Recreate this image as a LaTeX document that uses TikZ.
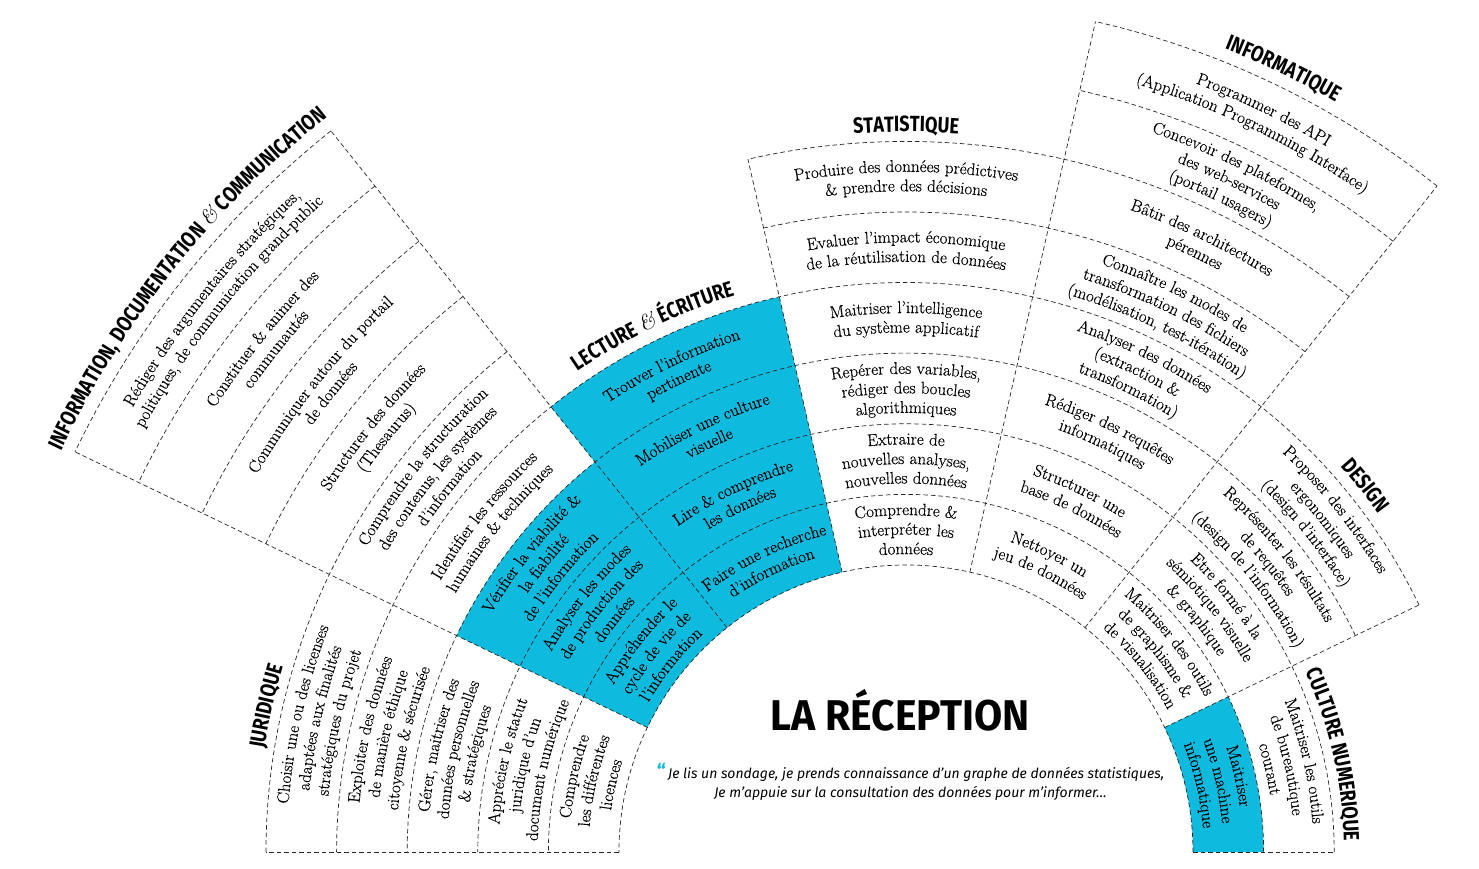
\documentclass[tikz,border=0pt]{standalone}
\usepackage{fontspec}
\usetikzlibrary{decorations.text}
\newfontfamily\titlefont[FakeStretch=0.82]{Fira Sans}
\newfontfamily\bigfont[FakeStretch=0.95]{Fira Sans}
\newfontfamily\quotefont{Fira Sans}
\newfontfamily\cellfam[FakeBold=0.3]{Latin Modern Roman}
\definecolor{rblue}{RGB}{14,186,222}
\newcommand\cellfont{\cellfam\fontsize{17}{19.5}\selectfont}
\newcommand\titlef{\titlefont\bfseries\fontsize{22}{22}\selectfont}
\newcommand\ampf{\rmfamily\itshape\fontsize{22}{22}\selectfont}
% one line of cell text along an arc: angle, band, line offset, text
\newcommand\tl[4]{%
  \pgfmathsetmacro\rr{317.3+70.6*#2+19.5*#3}%
  \pgfmathsetmacro\aa{#1+70}\pgfmathsetmacro\ab{#1-70}%
  \path[decorate,decoration={text along path,text align=center,text={|\cellfont|#4}}]
    (\aa:\rr pt) arc[start angle=\aa,end angle=\ab,radius=\rr pt];}
% title along an arc: angle, baseline radius, text
\newcommand\ttl[3]{%
  \pgfmathsetmacro\aa{#1+60}\pgfmathsetmacro\ab{#1-60}%
  \path[decorate,decoration={text along path,text align=center,text={|\titlef|#3}}]
    (\aa:#2pt) arc[start angle=\aa,end angle=\ab,radius=#2pt];}
\newcommand\radial[3]{\draw[dl] (#1:#2pt) -- (#1:#3pt);}
\newcommand\arcc[3]{\draw[dl] (#2:#1pt) arc[start angle=#2,end angle=#3,radius=#1pt];}
\tikzset{dl/.style={draw=black!85,line width=0.7pt,dash pattern=on 4.5pt off 3pt}}
\begin{document}
\begin{tikzpicture}[x=1pt,y=1pt]
\fill[white] (-906,-16) rectangle (573,852);
\useasboundingbox (-906,-16) rectangle (573,852);
% blue cells
\fill[rblue] (0:287pt) -- (0:357.6pt) arc[start angle=0,end angle=25.714,radius=357.6pt]
  -- (25.714:287pt) arc[start angle=25.714,end angle=0,radius=287pt] -- cycle;
\fill[rblue] (102.857:287pt) -- (102.857:569.4pt) arc[start angle=102.857,end angle=128.571,radius=569.4pt]
  -- (128.571:498.8pt) arc[start angle=128.571,end angle=154.286,radius=498.8pt]
  -- (154.286:287pt) arc[start angle=154.286,end angle=102.857,radius=287pt] -- cycle;
% arcs
\arcc{287}{0}{180}
\arcc{357.6}{0}{180}
\arcc{428.2}{0}{180}
\arcc{498.8}{25.714}{180}
\arcc{569.4}{25.714}{180}
\arcc{640}{51.429}{102.857}
\arcc{640}{128.571}{180}
\arcc{710.6}{51.429}{102.857}
\arcc{710.6}{128.571}{154.286}
\arcc{781.2}{51.429}{77.143}
\arcc{781.2}{128.571}{154.286}
\arcc{851.8}{51.429}{77.143}
\arcc{851.8}{128.571}{154.286}
\arcc{922.4}{128.571}{154.286}
% radial lines
\radial{0}{287}{428.2}
\radial{25.714}{287}{569.4}
\radial{51.429}{287}{851.8}
\radial{77.143}{287}{851.8}
\radial{102.857}{287}{710.6}
\radial{128.571}{287}{922.4}
\radial{154.286}{287}{922.4}
\radial{180}{287}{640}
% Culture numerique
\tl{12.857}{1}{1}{Maitriser les outils}
\tl{12.857}{1}{0}{de bureautique}
\tl{12.857}{1}{-1}{courant}
\tl{12.857}{0}{1}{Maitriser}
\tl{12.857}{0}{0}{une machine}
\tl{12.857}{0}{-1}{informatique}
% Design
\tl{38.571}{3}{1}{Proposer des interfaces}
\tl{38.571}{3}{0}{ergonomiques}
\tl{38.571}{3}{-1}{(design d’interface)}
\tl{38.571}{2}{1}{Représenter les résultats}
\tl{38.571}{2}{0}{de requêtes}
\tl{38.571}{2}{-1}{(design de l’information)}
\tl{38.571}{1}{1}{Etre formé à la}
\tl{38.571}{1}{0}{sémiotique visuelle}
\tl{38.571}{1}{-1}{{\&} graphique}
\tl{38.571}{0}{1}{Maitriser des outils}
\tl{38.571}{0}{0}{de graphisme {\&}}
\tl{38.571}{0}{-1}{de visualisation}
% Informatique
\tl{64.286}{7}{0.5}{Programmer des API}
\tl{64.286}{7}{-0.5}{(Application Programming Interface)}
\tl{64.286}{6}{1}{Concevoir des plateformes,}
\tl{64.286}{6}{0}{des web-services}
\tl{64.286}{6}{-1}{(portail usagers)}
\tl{64.286}{5}{0.5}{Bâtir des architectures}
\tl{64.286}{5}{-0.5}{pérennes}
\tl{64.286}{4}{1}{Connaître les modes de}
\tl{64.286}{4}{0}{transformation des fichiers}
\tl{64.286}{4}{-1}{(modélisation, test-itération)}
\tl{64.286}{3}{1}{Analyser des données}
\tl{64.286}{3}{0}{(extraction {\&}}
\tl{64.286}{3}{-1}{transformation)}
\tl{64.286}{2}{0.5}{Rédiger des requêtes}
\tl{64.286}{2}{-0.5}{informatiques}
\tl{64.286}{1}{0.5}{Structurer une}
\tl{64.286}{1}{-0.5}{base de données}
\tl{64.286}{0}{0.5}{Nettoyer un}
\tl{64.286}{0}{-0.5}{jeu de données}
% Statistique
\tl{90}{5}{0.5}{Produire des données prédictives}
\tl{90}{5}{-0.5}{{\&} prendre des décisions}
\tl{90}{4}{0.5}{Evaluer l’impact économique}
\tl{90}{4}{-0.5}{de la réutilisation de données}
\tl{90}{3}{0.5}{Maitriser l’intelligence}
\tl{90}{3}{-0.5}{du système applicatif}
\tl{90}{2}{1}{Repérer des variables,}
\tl{90}{2}{0}{rédiger des boucles}
\tl{90}{2}{-1}{algorithmiques}
\tl{90}{1}{1}{Extraire de}
\tl{90}{1}{0}{nouvelles analyses,}
\tl{90}{1}{-1}{nouvelles données}
\tl{90}{0}{1}{Comprendre {\&}}
\tl{90}{0}{0}{interpréter les}
\tl{90}{0}{-1}{données}
% Lecture & ecriture (upper)
\tl{115.714}{3}{0.5}{Trouver l’information}
\tl{115.714}{3}{-0.5}{pertinente}
\tl{115.714}{2}{0.5}{Mobiliser une culture}
\tl{115.714}{2}{-0.5}{visuelle}
\tl{115.714}{1}{0.5}{Lire {\&} comprendre}
\tl{115.714}{1}{-0.5}{les données}
\tl{115.714}{0}{0.5}{Faire une recherche}
\tl{115.714}{0}{-0.5}{d’information}
% Lecture & ecriture (lower)
\tl{141.429}{2}{1}{Vérifier la viabilité {\&}}
\tl{141.429}{2}{0}{la fiabilité}
\tl{141.429}{2}{-1}{de l’information}
\tl{141.429}{1}{1}{Analyser les modes}
\tl{141.429}{1}{0}{de production des}
\tl{141.429}{1}{-1}{données}
\tl{141.429}{0}{1}{Appréhender le}
\tl{141.429}{0}{0}{cycle de vie de}
\tl{141.429}{0}{-1}{l’information}
% Information documentation
\tl{141.429}{8}{0.5}{Rédiger des argumentaires stratégiques,}
\tl{141.429}{8}{-0.5}{politiques, de communication grand-public}
\tl{141.429}{7}{0.5}{Constituer {\&} animer des}
\tl{141.429}{7}{-0.5}{communautés}
\tl{141.429}{6}{0.5}{Communiquer autour du portail}
\tl{141.429}{6}{-0.5}{de données}
\tl{141.429}{5}{0.5}{Structurer des données}
\tl{141.429}{5}{-0.5}{(Thesaurus)}
\tl{141.429}{4}{1}{Comprendre la structuration}
\tl{141.429}{4}{0}{des contenus, les systèmes}
\tl{141.429}{4}{-1}{d’information}
\tl{141.429}{3}{0.5}{Identifier les ressources}
\tl{141.429}{3}{-0.5}{humaines {\&} techniques}
% Juridique
\tl{167.143}{4}{1}{Choisir une ou des licenses}
\tl{167.143}{4}{0}{adaptées aux finalités}
\tl{167.143}{4}{-1}{stratégiques du projet}
\tl{167.143}{3}{1}{Exploiter des données}
\tl{167.143}{3}{0}{de manière éthique}
\tl{167.143}{3}{-1}{citoyenne {\&} sécurisée}
\tl{167.143}{2}{1}{Gérer, maitriser des}
\tl{167.143}{2}{0}{données personnelles}
\tl{167.143}{2}{-1}{{\&} stratégiques}
\tl{167.143}{1}{1}{Apprécier le statut}
\tl{167.143}{1}{0}{juridique d’un}
\tl{167.143}{1}{-1}{document numérique}
\tl{167.143}{0}{1}{Comprendre}
\tl{167.143}{0}{0}{les différentes}
\tl{167.143}{0}{-1}{licences}
% titles
\ttl{167.143}{650}{JURIDIQUE}
\ttl{141.429}{935}{INFORMATION, DOCUMENTATION |\ampf|{\&}|\titlef| COMMUNICATION}
\ttl{115.714}{582}{LECTURE |\ampf|{\&}|\titlef| ÉCRITURE}
\ttl{90}{720}{STATISTIQUE}
\ttl{64.286}{864}{INFORMATIQUE}
\ttl{38.571}{581}{DESIGN}
\ttl{12.857}{438}{CULTURE NUMERIQUE}
% central texts
\node[anchor=base,font=\bigfont\bfseries\fontsize{43}{43}\selectfont,inner sep=0pt] (reception) at (-6,122) {LA RÉCEPTION};
\node[align=center,inner sep=0pt,font=\quotefont\itshape\fontsize{14}{19}\selectfont] (quote) at (4.5,70)
  {{\color{rblue}\bfseries\upshape\fontsize{20}{14}\selectfont“}\,Je lis un sondage, je prends connaissance d’un graphe de données statistiques,\\
   Je m’appuie sur la consultation des données pour m’informer…};
\end{tikzpicture}
\end{document}
